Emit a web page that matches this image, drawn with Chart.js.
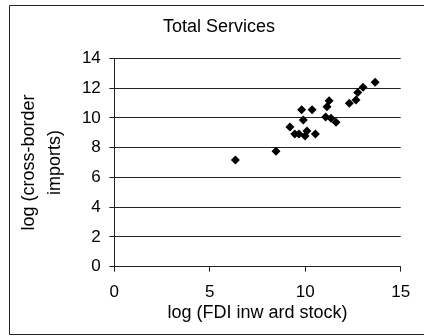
<!DOCTYPE html>
<html>
<head>
<meta charset="utf-8">
<script src="https://cdn.jsdelivr.net/npm/chart.js@4"></script>
<style>
html,body{margin:0;padding:0;background:#fff;}
#wrap{width:424px;height:336px;position:relative;}
</style>
</head>
<body>
<div id="wrap"><canvas id="c" width="424" height="336"></canvas></div>
<script>
const chartTitle = "Total Services";
const xAxisTitle = "log (FDI inw ard stock)";
const yAxisTitle = ["log (cross-border", "imports)"];
const xTicks = [0, 5, 10, 15];
const yTicks = [0, 2, 4, 6, 8, 10, 12, 14];
const fdiInward = [6.34, 8.47, 9.20, 9.45, 9.67, 9.81, 9.90, 9.99, 10.09, 10.36, 10.53, 11.07, 11.14, 11.25, 11.35, 11.61, 12.31, 12.66, 12.75, 13.03, 13.66];
const crossBorderImports = [7.17, 7.75, 9.39, 8.92, 8.92, 10.55, 9.86, 8.78, 9.12, 10.55, 8.92, 10.06, 10.75, 11.14, 9.97, 9.70, 10.98, 11.20, 11.70, 12.05, 12.39];

const points = fdiInward.map((x, i) => ({x: x, y: crossBorderImports[i]}));
const FONT = "'Liberation Sans', Arial, sans-serif";

const framePlugin = {
  id: 'frame',
  afterDraw(chart) {
    const ctx = chart.ctx;
    ctx.save();
    ctx.strokeStyle = '#222';
    ctx.lineWidth = 1;
    ctx.beginPath();
    ctx.moveTo(430, 5.5);
    ctx.lineTo(9.5, 5.5);
    ctx.lineTo(9.5, 334.5);
    ctx.lineTo(430, 334.5);
    ctx.stroke();
    ctx.fillStyle = '#000';
    ctx.font = "18px " + FONT;
    ctx.textAlign = 'center';
    ctx.textBaseline = 'middle';
    ctx.fillText(chartTitle, 219, 27.5);
    ctx.restore();
  }
};

new Chart(document.getElementById('c'), {
  type: 'scatter',
  data: {
    datasets: [{
      data: points,
      pointStyle: 'rectRot',
      pointRadius: 4.5,
      pointHoverRadius: 4.5,
      backgroundColor: '#000',
      borderColor: '#000',
      borderWidth: 0
    }]
  },
  options: {
    responsive: false,
    animation: false,
    events: [],
    layout: { padding: { top: 58.3, right: 23.3, left: 0, bottom: 0 } },
    plugins: { legend: { display: false }, tooltip: { enabled: false }, title: { display: false } },
    scales: {
      x: {
        type: 'linear',
        min: 0, max: 15,
        afterFit(s) { s.height = 69.3; },
        afterBuildTicks(s) { s.ticks = xTicks.map(v => ({value: v})); },
        grid: { drawOnChartArea: false, drawTicks: true, tickLength: 5, color: '#222', lineWidth: 1 },
        border: { display: true, color: '#222', width: 1 },
        ticks: { color: '#000', font: { family: FONT, size: 17 }, padding: 10, maxRotation: 0 },
        title: { display: true, text: xAxisTitle, color: '#000', font: { family: FONT, size: 18 }, padding: { top: 0, bottom: 12 } }
      },
      y: {
        type: 'linear',
        min: 0, max: 14,
        afterFit(s) { s.width = 114.3; },
        afterBuildTicks(s) { s.ticks = yTicks.map(v => ({value: v})); },
        grid: { drawOnChartArea: true, drawTicks: true, tickLength: 5, color: '#222', lineWidth: 1 },
        border: { display: true, color: '#222', width: 1 },
        ticks: { color: '#000', font: { family: FONT, size: 17 }, padding: 8.5 },
        title: { display: true, text: yAxisTitle, color: '#000', font: { family: FONT, size: 18, lineHeight: 1.42 }, padding: { top: 16.3, bottom: 0 } }
      }
    }
  },
  plugins: [framePlugin]
});
</script>
</body>
</html>
